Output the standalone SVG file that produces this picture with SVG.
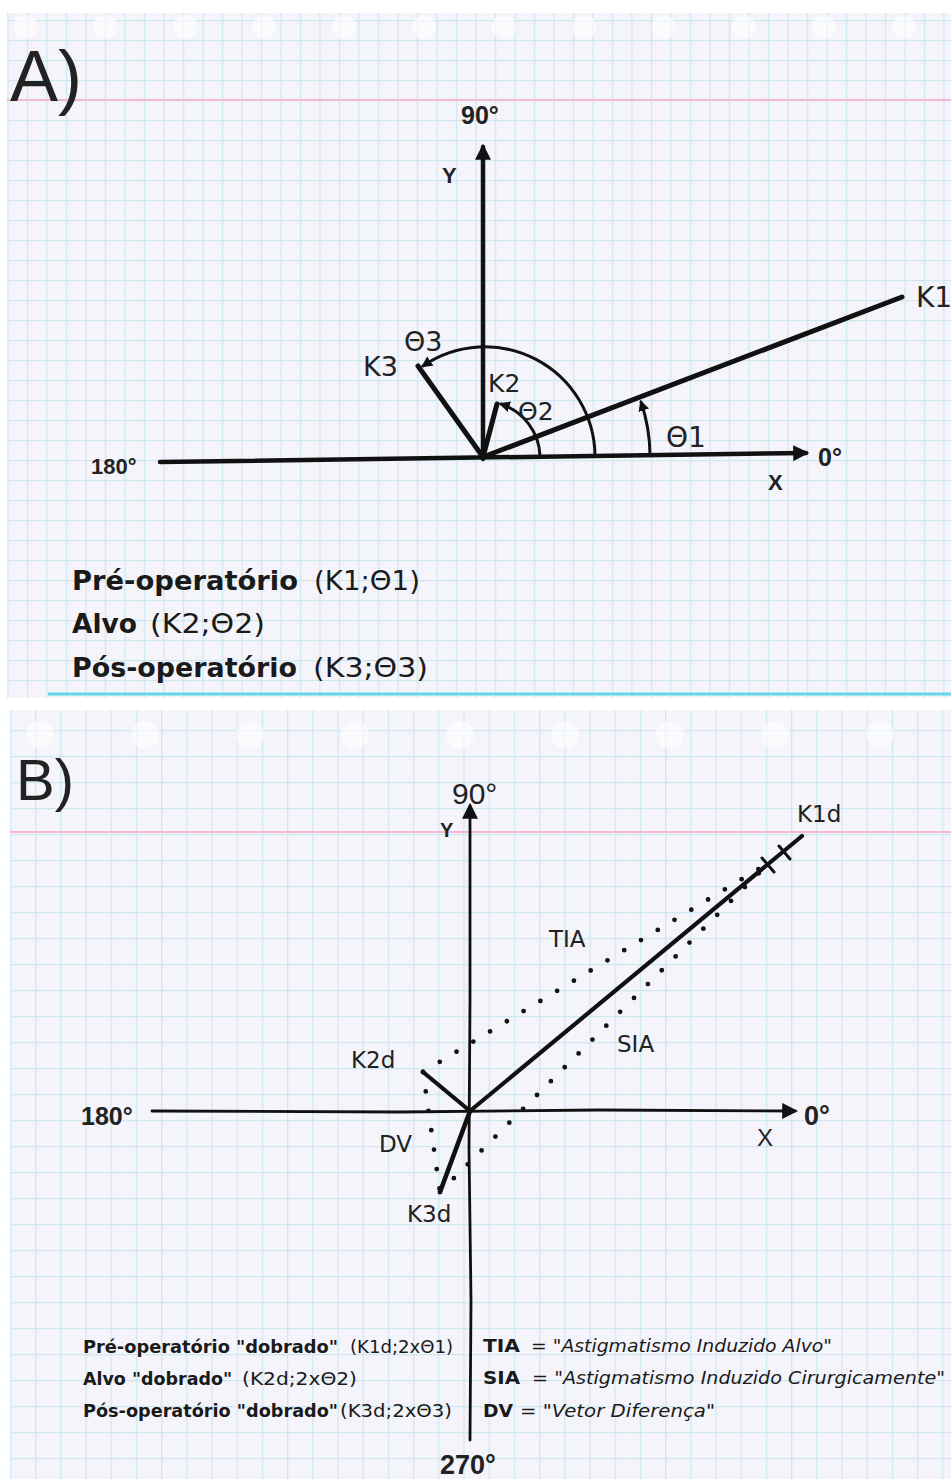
<svg xmlns="http://www.w3.org/2000/svg" width="951" height="1479" viewBox="0 0 951 1479">
<style>
.ink{stroke:#111;fill:none;stroke-linecap:round}
.lbl{font-family:"DejaVu Sans","Noto Sans",sans-serif;fill:#222}
.ax{font-family:"Liberation Sans",Arial,sans-serif;fill:#222}
.leg{font-family:"DejaVu Sans","Noto Sans",sans-serif;fill:#1a1a1a}
.b{font-weight:bold}
.it{font-style:italic}
.dots{stroke:#111;fill:none;stroke-linecap:round;stroke-width:4.8;stroke-dasharray:0 19.6}
.hole{fill:#ffffff;opacity:0.6}
</style>
<defs>
<pattern id="gridA" x="7.3" y="0" width="19.5" height="20" patternUnits="userSpaceOnUse">
<rect width="19.5" height="20" fill="#f5f4fa"/>
<path d="M0.6,0 V20 M0,0.6 H19.5" stroke="#cde8f1" stroke-width="1.3"/>
</pattern>
<pattern id="gridB" x="9.8" y="2" width="25.2" height="26" patternUnits="userSpaceOnUse">
<rect width="25.2" height="26" fill="#f5f4fa"/>
<path d="M0.6,0 V26 M0,0.6 H25.2" stroke="#cde8f1" stroke-width="1.3"/>
</pattern>
<marker id="arr" viewBox="0 0 10 10" refX="8" refY="5" markerWidth="16" markerHeight="16" markerUnits="userSpaceOnUse" orient="auto"><path d="M0,0 L10,5 L0,10 z" fill="#111"/></marker>
<marker id="arrS" viewBox="0 0 10 10" refX="8" refY="5" markerWidth="11" markerHeight="11" markerUnits="userSpaceOnUse" orient="auto"><path d="M0,0 L10,5 L0,10 z" fill="#111"/></marker>
</defs>
<rect width="951" height="1479" fill="#ffffff"/>

<g id="paper-a">
<rect x="7" y="13" width="944" height="685" fill="url(#gridA)"/>
<line x1="7" y1="100" x2="951" y2="100" stroke="#f5b9cf" stroke-width="2"/>
<line x1="48" y1="694" x2="951" y2="694" stroke="#63d5ee" stroke-width="3"/>
<g>
<circle class="hole" cx="25" cy="27" r="12"/><circle class="hole" cx="105" cy="27" r="12"/><circle class="hole" cx="185" cy="27" r="12"/><circle class="hole" cx="264" cy="27" r="12"/><circle class="hole" cx="344" cy="27" r="12"/><circle class="hole" cx="424" cy="27" r="12"/><circle class="hole" cx="504" cy="27" r="12"/><circle class="hole" cx="584" cy="27" r="12"/><circle class="hole" cx="664" cy="27" r="12"/><circle class="hole" cx="744" cy="27" r="12"/><circle class="hole" cx="824" cy="27" r="12"/><circle class="hole" cx="904" cy="27" r="12"/>
</g>
</g>

<g id="paper-b">
<rect x="10" y="710" width="941" height="769" fill="url(#gridB)"/>
<line x1="10" y1="832" x2="951" y2="832" stroke="#f5b9cf" stroke-width="2"/>
<g>
<circle class="hole" cx="40" cy="735" r="14"/><circle class="hole" cx="145" cy="735" r="14"/><circle class="hole" cx="250" cy="735" r="14"/><circle class="hole" cx="355" cy="735" r="14"/><circle class="hole" cx="460" cy="735" r="14"/><circle class="hole" cx="565" cy="735" r="14"/><circle class="hole" cx="670" cy="735" r="14"/><circle class="hole" cx="775" cy="735" r="14"/><circle class="hole" cx="880" cy="735" r="14"/>
</g>
</g>

<g id="connectors">
<!-- Panel A -->
<line class="ink" x1="160" y1="462" x2="806" y2="453" stroke-width="4.5" marker-end="url(#arr)"/>
<line class="ink" x1="483" y1="459" x2="483" y2="147" stroke-width="4.5" marker-end="url(#arr)"/>
<line class="ink" x1="483" y1="457" x2="902" y2="297" stroke-width="5"/>
<line class="ink" x1="483" y1="457" x2="418" y2="366" stroke-width="5"/>
<line class="ink" x1="483" y1="457" x2="497" y2="404" stroke-width="5"/>
<path class="ink" d="M595,456 A110,110 0 0 0 423,366" stroke-width="3" marker-end="url(#arrS)"/>
<path class="ink" d="M540,456 A57,57 0 0 0 501,404" stroke-width="3" marker-end="url(#arrS)"/>
<path class="ink" d="M650,455 A167,167 0 0 0 641,402" stroke-width="3" marker-end="url(#arrS)"/>
<!-- Panel B -->
<path class="ink" d="M470,1440 L471,1300 L469,1150 L470,1000 L470,806" stroke-width="2.8" marker-end="url(#arr)"/>
<path class="ink" d="M152,1111 L400,1112 L600,1110 L795,1111" stroke-width="2.8" marker-end="url(#arr)"/>
<line class="ink" x1="470" y1="1111" x2="802" y2="836" stroke-width="4.2"/>
<line class="ink" x1="470" y1="1111" x2="423" y2="1072" stroke-width="4.2"/>
<line class="ink" x1="470" y1="1111" x2="440" y2="1192" stroke-width="4.6"/>
<path class="ink" d="M762,858 L774,872 M779,846 L790,859" stroke-width="3"/>
<line class="dots" x1="423" y1="1072" x2="770" y2="862"/>
<line class="dots" x1="440" y1="1192" x2="770" y2="862"/>
<line class="dots" x1="423" y1="1072" x2="440" y2="1192"/>
</g>

<g id="title-a"><text class="ax" x="10" y="101" font-size="72">A)</text></g>
<g id="title-b"><text class="ax" x="16" y="800" font-size="58">B)</text></g>

<g id="axis-labels-a">
<text class="ax b" x="461" y="124" font-size="25" fill="#333">90°</text>
<text class="ax b" x="442" y="183" font-size="22">Y</text>
<text class="ax b" x="91" y="474" font-size="22" fill="#333">180°</text>
<text class="ax b" x="818" y="466" font-size="25" fill="#333">0°</text>
<text class="ax b" x="768" y="490" font-size="22">X</text>
</g>

<g id="vector-labels-a">
<text class="lbl" x="916" y="307" font-size="28">K1</text>
<text class="lbl" x="363" y="376" font-size="27">K3</text>
<text class="lbl" x="404" y="351" font-size="27">Θ3</text>
<text class="lbl" x="488" y="392" font-size="25">K2</text>
<text class="lbl" x="518" y="420" font-size="25">Θ2</text>
<text class="lbl" x="666" y="447" font-size="28">Θ1</text>
</g>

<g id="legend-a">
<text class="leg b" x="72" y="590" font-size="26" textLength="226" lengthAdjust="spacingAndGlyphs">Pré-operatório</text>
<text class="leg" x="314" y="590" font-size="26" textLength="106" lengthAdjust="spacingAndGlyphs">(K1;Θ1)</text>
<text class="leg b" x="72" y="633" font-size="26" textLength="65" lengthAdjust="spacingAndGlyphs">Alvo</text>
<text class="leg" x="150" y="633" font-size="26" textLength="115" lengthAdjust="spacingAndGlyphs">(K2;Θ2)</text>
<text class="leg b" x="72" y="677" font-size="26" textLength="225" lengthAdjust="spacingAndGlyphs">Pós-operatório</text>
<text class="leg" x="313" y="677" font-size="26" textLength="115" lengthAdjust="spacingAndGlyphs">(K3;Θ3)</text>
</g>

<g id="axis-labels-b">
<text class="ax" x="452" y="804" font-size="30" fill="#333">90°</text>
<text class="ax b" x="440" y="837" font-size="20">Y</text>
<text class="ax b" x="81" y="1125" font-size="25" fill="#333">180°</text>
<text class="ax b" x="804" y="1125" font-size="27" fill="#333">0°</text>
<text class="ax" x="757" y="1146" font-size="24">X</text>
<text class="ax b" x="440" y="1474" font-size="27" fill="#333">270°</text>
</g>

<g id="vector-labels-b">
<text class="lbl" x="797" y="822" font-size="23">K1d</text>
<text class="lbl" x="351" y="1068" font-size="23">K2d</text>
<text class="lbl" x="407" y="1222" font-size="23">K3d</text>
<text class="lbl" x="379" y="1152" font-size="23">DV</text>
<text class="lbl" x="549" y="947" font-size="23">TIA</text>
<text class="lbl" x="617" y="1052" font-size="23">SIA</text>
</g>

<g id="legend-b-left">
<text class="leg b" x="83" y="1353" font-size="18" textLength="255" lengthAdjust="spacingAndGlyphs">Pré-operatório "dobrado"</text>
<text class="leg" x="350" y="1353" font-size="18" textLength="103" lengthAdjust="spacingAndGlyphs">(K1d;2xΘ1)</text>
<text class="leg b" x="83" y="1385" font-size="18" textLength="149" lengthAdjust="spacingAndGlyphs">Alvo "dobrado"</text>
<text class="leg" x="242" y="1385" font-size="18" textLength="115" lengthAdjust="spacingAndGlyphs">(K2d;2xΘ2)</text>
<text class="leg b" x="83" y="1417" font-size="18" textLength="255" lengthAdjust="spacingAndGlyphs">Pós-operatório "dobrado"</text>
<text class="leg" x="340" y="1417" font-size="18" textLength="112" lengthAdjust="spacingAndGlyphs">(K3d;2xΘ3)</text>
</g>

<g id="legend-b-right">
<text class="leg b" x="483" y="1352" font-size="18" textLength="37" lengthAdjust="spacingAndGlyphs">TIA</text>
<text class="leg it" x="531" y="1352" font-size="18" textLength="301" lengthAdjust="spacingAndGlyphs">= "Astigmatismo Induzido Alvo"</text>
<text class="leg b" x="483" y="1384" font-size="18" textLength="37" lengthAdjust="spacingAndGlyphs">SIA</text>
<text class="leg it" x="532" y="1384" font-size="18" textLength="413" lengthAdjust="spacingAndGlyphs">= "Astigmatismo Induzido Cirurgicamente"</text>
<text class="leg b" x="483" y="1417" font-size="18" textLength="30" lengthAdjust="spacingAndGlyphs">DV</text>
<text class="leg it" x="520" y="1417" font-size="18" textLength="195" lengthAdjust="spacingAndGlyphs">= "Vetor Diferença"</text>
</g>
</svg>
